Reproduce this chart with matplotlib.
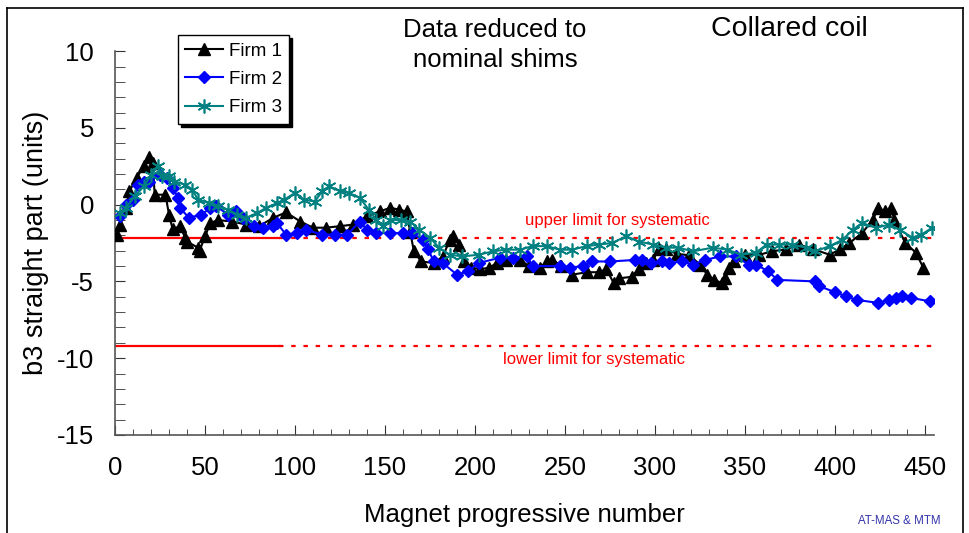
import matplotlib
matplotlib.use("Agg")
import matplotlib.pyplot as plt
from matplotlib.lines import Line2D

plt.rcParams["font.family"] = ["Liberation Sans", "DejaVu Sans"]
plt.rcParams["axes.unicode_minus"] = False

# ─── Data ────────────────────────────────────────────────────────────────────

firm1_x = [1, 3, 6, 8, 12, 16, 19, 21, 22, 28, 30, 32, 36, 39, 40, 46, 47, 50, 53, 57,
           65, 73, 80, 88, 95, 103, 110, 117, 125, 132, 140, 147, 153, 158, 162, 164,
           166, 170, 177, 182, 186, 188, 191, 194, 198, 203, 208, 212, 217, 225, 230,
           236, 240, 243, 248, 254, 262, 269, 273, 277, 280, 287, 291, 295, 299, 302,
           306, 312, 319, 325, 329, 333, 337, 339, 341, 344, 350, 358, 365, 373, 380,
           388, 397, 403, 408, 415, 421, 424, 428, 431, 433, 439, 445, 449]
firm1_y = [-1.95, -1.3, -0.2, 0.87, 1.75, 2.5, 3.1, 2.7, 0.65, 0.65, -0.65, -1.6, -1.4,
           -2.15, -2.4, -2.8, -3.0, -2.05, -1.2, -1.0, -1.1, -1.3, -1.4, -0.85, -0.5,
           -1.1, -1.5, -1.5, -1.4, -1.3, -0.76, -0.44, -0.2, -0.33, -0.44, -1.8, -3.0,
           -3.7, -3.8, -3.4, -2.3, -2.06, -2.6, -3.7, -4.1, -4.2, -4.1, -3.8, -3.6,
           -3.6, -4.0, -4.1, -3.7, -3.6, -4.0, -4.56, -4.4, -4.4, -4.2, -5.1, -4.8,
           -4.7, -4.2, -3.8, -3.6, -2.9, -2.9, -3.2, -3.3, -3.9, -4.56, -4.9, -5.1,
           -4.75, -4.1, -3.7, -3.26, -3.26, -3.04, -2.9, -2.6, -2.9, -3.26, -2.9, -2.5,
           -1.85, -1.0, -0.2, -0.44, -0.2, -1.0, -2.5, -3.13, -4.1]

firm2_x = [3, 6, 10, 13, 16, 19, 25, 29, 32, 35, 36, 41, 48, 53, 56, 63, 67, 71, 77, 82,
           88, 90, 95, 101, 106, 115, 122, 129, 136, 140, 145, 153, 160, 165, 171, 174,
           177, 182, 190, 196, 202, 214, 221, 229, 232, 247, 253, 260, 265, 275, 289,
           293, 298, 304, 308, 315, 321, 328, 336, 345, 352, 356, 363, 368, 389, 391,
           400, 406, 412, 424, 430, 434, 437, 442, 453]
firm2_y = [-0.76, 0.0, 0.33, 1.3, 1.5, 1.5, 1.95, 1.75, 1.1, 0.45, -0.2, -0.85, -0.65,
           -0.2, -0.1, -0.65, -0.44, -0.85, -1.4, -1.5, -1.4, -1.2, -1.95, -1.85, -1.63,
           -1.95, -1.95, -1.95, -1.1, -1.63, -1.85, -1.85, -1.85, -1.85, -2.3, -2.9,
           -3.7, -3.8, -4.56, -4.35, -3.8, -3.45, -3.45, -3.37, -4.0, -4.0, -4.1, -4.0,
           -3.7, -3.7, -3.6, -3.6, -3.8, -3.7, -3.8, -3.7, -3.9, -3.6, -3.37, -3.37,
           -3.9, -3.9, -4.35, -4.9, -5.0, -5.3, -5.7, -5.97, -6.2, -6.4, -6.2, -6.07,
           -5.97, -6.07, -6.3]

firm3_x = [3, 6, 11, 16, 20, 24, 26, 30, 33, 39, 43, 46, 52, 57, 63, 68, 73, 79, 84, 90,
           94, 100, 105, 111, 115, 119, 125, 130, 136, 141, 145, 149, 153, 159, 164, 169,
           175, 180, 186, 193, 202, 210, 217, 225, 232, 240, 247, 254, 262, 269, 276,
           284, 291, 299, 306, 313, 321, 332, 340, 348, 356, 362, 369, 376, 384, 389,
           397, 404, 410, 415, 423, 430, 436, 443, 448, 454]
firm3_y = [-0.55, -0.2, 0.54, 1.2, 1.95, 2.5, 1.84, 1.84, 1.5, 1.3, 0.98, 0.33, 0.1,
           -0.1, -0.33, -0.65, -0.85, -0.54, -0.2, 0.1, 0.33, 0.76, 0.33, 0.2, 0.87,
           1.2, 0.87, 0.76, 0.45, -0.33, -1.0, -1.4, -1.0, -1.0, -1.1, -1.63, -2.15,
           -2.8, -3.26, -3.37, -3.26, -3.04, -2.93, -2.93, -2.7, -2.7, -2.93, -2.93,
           -2.7, -2.6, -2.5, -2.06, -2.4, -2.6, -2.8, -2.8, -3.04, -2.8, -2.93, -3.26,
           -3.13, -2.6, -2.6, -2.6, -2.8, -3.04, -2.7, -2.3, -1.63, -1.2, -1.5, -1.3,
           -1.63, -2.15, -1.95, -1.5]

upper_limit = -2.2
lower_limit = -9.2
limit_solid_end = 91
x_max = 455

# ─── Figure ──────────────────────────────────────────────────────────────────

fig = plt.figure(figsize=(9.7, 5.33), dpi=100)
ax = fig.add_axes([0.1186, 0.184, 0.8443, 0.720])

# limits for systematic: solid part then dotted part
for lim in (upper_limit, lower_limit):
    ax.plot([0, limit_solid_end], [lim, lim], color="red", lw=1.6, zorder=1)
    ax.plot([limit_solid_end, x_max], [lim, lim], color="red", lw=1.6,
            linestyle=(0, (2, 3.5)), zorder=1)

ax.plot(firm1_x, firm1_y, color="black", lw=1.5, marker="^", markersize=8,
        label="Firm 1", zorder=3)
ax.plot(firm2_x, firm2_y, color="#0000ff", lw=1.5, marker="D", markersize=6,
        label="Firm 2", zorder=3)
ax.plot(firm3_x, firm3_y, color="#008080", lw=1.5, marker=(6, 2, 0), markersize=10,
        markeredgewidth=1.2, label="Firm 3", zorder=4)

ax.set_xlim(0, x_max)
ax.set_ylim(-15, 10)
ax.set_xticks(range(0, 451, 50))
ax.set_xticks(range(0, 451, 10), minor=True)
ax.set_yticks(range(-15, 11, 5))
ax.set_yticks(range(-15, 11, 1), minor=True)

for side in ("top", "right"):
    ax.spines[side].set_visible(False)
for side in ("left", "bottom"):
    ax.spines[side].set_color("#555555")
    ax.spines[side].set_linewidth(1.2)

ax.tick_params(axis="both", which="both", direction="in", color="#333333",
               labelsize=18.5, pad=15)
ax.tick_params(axis="x", which="major", length=7)
ax.tick_params(axis="x", which="minor", length=4)
ax.tick_params(axis="y", which="both", length=7)

ax.set_xlabel("Magnet progressive number", fontsize=18.5, labelpad=17)
ax.set_ylabel("b3 straight part (units)", fontsize=19.5, labelpad=6)

ax.text(279, -1.05, "upper limit for systematic", color="red", fontsize=12,
        ha="center", va="center")
ax.text(266, -10.1, "lower limit for systematic", color="red", fontsize=12,
        ha="center", va="center")

leg = ax.legend(loc="upper left", bbox_to_anchor=(178 / 970, 1 - 35 / 533),
                bbox_transform=fig.transFigure, borderaxespad=0, fontsize=13.5,
                frameon=True, fancybox=False, edgecolor="black", framealpha=1,
                shadow={"color": "black", "alpha": 1}, labelspacing=0.6,
                handlelength=2.0, handletextpad=0.3, borderpad=0.4)
leg.get_frame().set_linewidth(1.0)

fig.text(495 / 970, 1 - 45 / 533, "Data reduced to\nnominal shims", fontsize=18.5,
         ha="center", va="center", linespacing=1.35)
fig.text(789 / 970, 1 - 29 / 533, "Collared coil", fontsize=20.5,
         ha="center", va="center")
fig.text(899 / 970, 1 - 521 / 533, "AT-MAS & MTM", fontsize=8.3, color="#3333aa",
         ha="center", va="center")

# slide frame
x0, x1, y1 = 7 / 970, 963 / 970, 1 - 8 / 533
for xs, ys in (([x0, x0], [0, y1]), ([x0, x1], [y1, y1]), ([x1, x1], [0, y1])):
    fig.add_artist(Line2D(xs, ys, transform=fig.transFigure, color="black", lw=1.2))

fig.savefig("out.png", dpi=100)
